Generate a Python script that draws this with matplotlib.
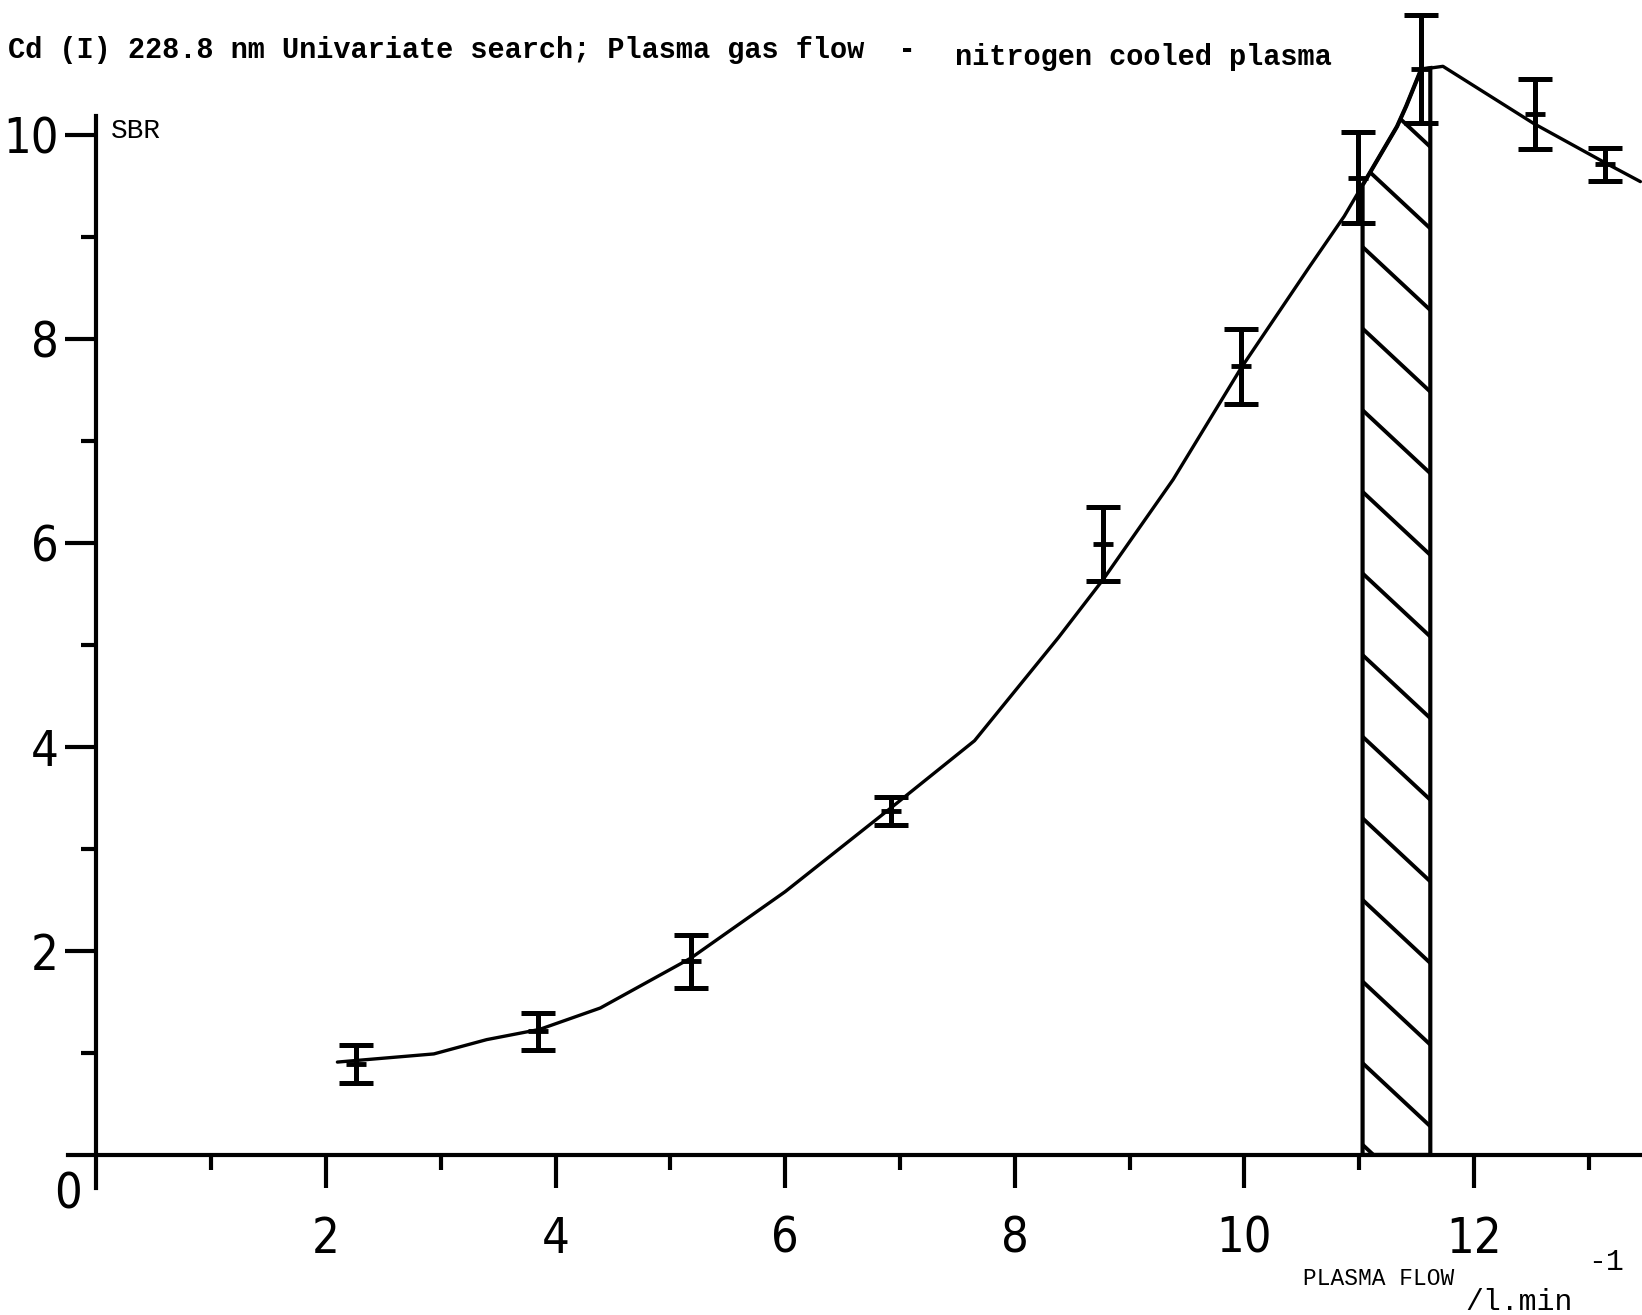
import numpy as np
import matplotlib
matplotlib.use("Agg")
import matplotlib.pyplot as plt

# measured SBR values with error bars
flow = [2.26, 3.85, 5.18, 6.92, 8.77, 9.97, 10.99, 11.54, 12.53, 13.14]
sbr = [0.89, 1.21, 1.90, 3.37, 5.99, 7.73, 9.58, 10.64, 10.20, 9.71]
sbr_err = [0.185, 0.185, 0.26, 0.14, 0.365, 0.365, 0.45, 0.53, 0.345, 0.16]

# hand drawn trend line
curve_x = [2.10, 2.94, 3.40, 3.86, 4.39, 5.18, 6.00, 6.92, 7.65, 8.38, 8.77,
           9.38, 9.97, 10.57, 10.87, 11.09, 11.33, 11.41, 11.54, 11.73, 12.52, 13.15, 13.45]
curve_y = [0.91, 0.99, 1.13, 1.23, 1.44, 1.93, 2.58, 3.40, 4.06, 5.07, 5.64,
           6.62, 7.71, 8.71, 9.20, 9.62, 10.08, 10.28, 10.64, 10.67, 10.11, 9.72, 9.54]

# optimum window (hatched)
opt_lo, opt_hi = 11.03, 11.62

xticks_major = [2, 4, 6, 8, 10, 12]
xticks_minor = [1, 3, 5, 7, 9, 11, 13]
yticks_major = [2, 4, 6, 8, 10]
yticks_minor = [1, 3, 5, 7, 9]

W, H = 1642, 1315
fig = plt.figure(figsize=(W / 100, H / 100), dpi=100)
ax = fig.add_axes([0, 0, 1, 1])
ax.set_xlim(-0.839, 13.464)
ax.set_ylim(-1.569, 11.32)

tick_font = dict(fontfamily=["DejaVu Sans"], fontstretch="condensed", fontsize=35)
mono = ["Liberation Mono", "DejaVu Sans Mono"]

for s in ["top", "right"]:
    ax.spines[s].set_visible(False)
ax.spines["left"].set_position(("data", 0))
ax.spines["bottom"].set_position(("data", 0))
ax.spines["left"].set_bounds(-0.32, 10.18)
ax.spines["bottom"].set_bounds(-0.25, 13.464)
for s in ["left", "bottom"]:
    ax.spines[s].set_linewidth(3)

ax.set_xticks(xticks_major)
ax.set_xticklabels([str(v) for v in xticks_major], **tick_font)
ax.set_xticks(xticks_minor, minor=True)
ax.set_yticks(yticks_major)
ax.set_yticklabels([str(v) for v in yticks_major], **tick_font)
ax.set_yticks(yticks_minor, minor=True)
ax.tick_params(axis="x", which="major", direction="out", length=24, width=3, pad=19)
ax.tick_params(axis="x", which="minor", direction="out", length=11, width=3)
ax.tick_params(axis="y", which="major", direction="out", length=22, width=3, pad=5)
ax.tick_params(axis="y", which="minor", direction="out", length=11, width=3)

ax.text(-0.25, -0.39, "0", ha="center", va="center", **tick_font)

# trend line
ax.plot(curve_x, curve_y, color="black", lw=2.4, solid_capstyle="round",
        solid_joinstyle="round", zorder=3)

# error bars with a small centre dash
ax.errorbar(flow, sbr, yerr=sbr_err, fmt="none", ecolor="black",
            elinewidth=3.6, capsize=12, capthick=3.6, zorder=4)
ax.plot(flow, sbr, linestyle="none", marker="_", ms=14, mew=3.5, color="black", zorder=4)

# hatched optimum window under the curve
inner = [(x, y) for x, y in zip(curve_x, curve_y) if opt_lo < x < opt_hi]
bx = [opt_lo, opt_lo] + [p[0] for p in inner] + [opt_hi, opt_hi]
by = [0, np.interp(opt_lo, curve_x, curve_y)] + [p[1] for p in inner] + \
     [np.interp(opt_hi, curve_x, curve_y), 0]
band = ax.fill(bx, by, facecolor="none", edgecolor="black", lw=3, zorder=2)[0]
slope = 1.05
for y0 in np.arange(0.1, 11.5, 0.8):
    xs = np.array([opt_lo - 0.1, opt_hi + 0.1])
    ys = y0 - slope * (xs - opt_lo)
    ln, = ax.plot(xs, ys, color="black", lw=2.8, zorder=2)
    ln.set_clip_path(band)

# axis captions
ax.text(0.13, 10.04, "SBR", fontfamily=mono, fontsize=20, ha="left", va="center")

fig.text(8.4 / W, 1 - 50 / H, "Cd (I) 228.8 nm Univariate search; Plasma gas flow  -",
         fontfamily=mono, fontweight="bold", fontsize=20.6, ha="left", va="center")
fig.text(955 / W, 1 - 57 / H, "nitrogen cooled plasma",
         fontfamily=mono, fontweight="bold", fontsize=20.6, ha="left", va="center")

fig.text(1303 / W, 1 - 1285 / H, "PLASMA FLOW", fontfamily=mono, fontsize=16.5,
         ha="left", va="baseline")
fig.text(1465 / W, 1 - 1310 / H, "/l.min", fontfamily=mono, fontsize=21.5,
         ha="left", va="baseline")
fig.text(1588 / W, 1 - 1270 / H, "-1", fontfamily=mono, fontsize=21.5,
         ha="left", va="baseline")

fig.savefig("out.png", dpi=100, facecolor="white")
